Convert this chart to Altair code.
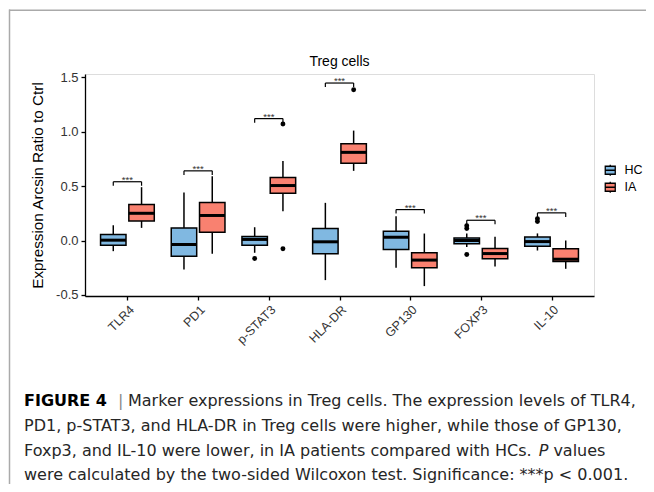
import altair as alt
import pandas as pd

categories = ["TLR4", "PD1", "p-STAT3", "HLA-DR", "GP130", "FOXP3", "IL-10"]
groups = ["HC", "IA"]
colors = ["#80B8E1", "#F98170"]

hc_low = [-0.098, -0.266, -0.113, -0.364, -0.25, -0.06, -0.092]
hc_q1 = [-0.043, -0.144, -0.043, -0.122, -0.083, -0.03, -0.052]
hc_med = [0.003, -0.037, 0.01, -0.012, 0.03, 0.0, -0.01]
hc_q3 = [0.055, 0.116, 0.037, 0.11, 0.086, 0.024, 0.032]
hc_high = [0.14, 0.44, 0.122, 0.346, 0.223, 0.065, 0.065]

ia_low = [0.116, -0.122, 0.269, 0.64, -0.419, -0.24, -0.26]
ia_q1 = [0.18, 0.076, 0.434, 0.71, -0.25, -0.168, -0.192]
ia_med = [0.25, 0.23, 0.505, 0.81, -0.18, -0.12, -0.172]
ia_q3 = [0.33, 0.35, 0.58, 0.89, -0.113, -0.073, -0.076]
ia_high = [0.49, 0.59, 0.73, 1.01, 0.064, 0.034, 0.0]

out_cat = ["p-STAT3", "p-STAT3", "p-STAT3", "HLA-DR", "FOXP3", "FOXP3", "FOXP3", "IL-10", "IL-10"]
out_group = ["HC", "IA", "IA", "IA", "HC", "HC", "HC", "HC", "HC"]
out_val = [-0.165, 1.07, -0.076, 1.385, 0.135, 0.11, -0.128, 0.2, 0.175]

sig_y = [0.54, 0.64, 1.12, 1.447, 0.284, 0.186, 0.254]
sig_label = ["***"] * 7

y_ticks = [-0.5, 0.0, 0.5, 1.0, 1.5]

title_text = "Treg cells"
y_title = "Expression Arcsin Ratio to Ctrl"

cap1_bold = "FIGURE 4"
cap1_bar = "|"
cap1_rest = "Marker expressions in Treg cells. The expression levels of TLR4,"
cap2 = "PD1, p-STAT3, and HLA-DR in Treg cells were higher, while those of GP130,"
cap3_a = "Foxp3, and IL-10 were lower, in IA patients compared with HCs."
cap3_p = "P"
cap3_b = "values"
cap4 = "were calculated by the two-sided Wilcoxon test. Significance: ***p < 0.001."

DODGE = 0.2
HALF = 0.18
LEG = 0.037

rows = []
for i, c in enumerate(categories):
    for g, st, off in [("HC", (hc_low, hc_q1, hc_med, hc_q3, hc_high), -DODGE),
                       ("IA", (ia_low, ia_q1, ia_med, ia_q3, ia_high), DODGE)]:
        rows.append(dict(cat=c, group=g, pos=i + off, xl=i + off - HALF, xr=i + off + HALF,
                         low=st[0][i], q1=st[1][i], med=st[2][i], q3=st[3][i], high=st[4][i]))
box = pd.DataFrame(rows)

outl = pd.DataFrame({"cat": out_cat, "group": out_group, "val": out_val})
outl["pos"] = [categories.index(c) + (-DODGE if g == "HC" else DODGE) for c, g in zip(out_cat, out_group)]

sig = pd.DataFrame({"cat": categories, "y": sig_y, "label": sig_label})
sig["i"] = range(len(categories))
sig["x1"] = sig["i"] - DODGE
sig["x2"] = sig["i"] + DODGE
sig["ylo"] = sig["y"] - LEG

W, H = 509, 222
PR, PB = 52, 188

xs = alt.Scale(domain=[-0.6, len(categories) - 0.4], nice=False, zero=False)
ys = alt.Scale(domain=[-0.51, 1.53], nice=False, zero=False)

label_expr = "[" + ",".join("'%s'" % c for c in categories) + "][datum.value]"
xaxis = alt.Axis(values=list(range(len(categories))), labelExpr=label_expr, title=None,
                 labelAngle=-45, labelAlign="right", labelBaseline="top", labelPadding=3,
                 labelFontSize=12.5, labelColor="#333333", tickSize=4, tickColor="black",
                 domainColor="black", domainWidth=1.3, tickWidth=1.3, grid=False,
                 labelFont="Liberation Sans")
yaxis = alt.Axis(values=y_ticks, labelExpr="replace(format(datum.value, '.1f'), '\u2212', '-')",
                 title=y_title, titleFontSize=15.3, titleFontWeight="normal", titleColor="black",
                 titleFont="Liberation Sans", titlePadding=10,
                 labelFontSize=13, labelColor="#333333", tickSize=4, tickColor="black",
                 domainColor="black", domainWidth=1.3, tickWidth=1.3, grid=False, labelPadding=3,
                 labelFont="Liberation Sans")

X = lambda f: alt.X(f, scale=xs, axis=xaxis)
Y = lambda f: alt.Y(f, scale=ys, axis=yaxis)

base = alt.Chart(box)

whisk_lo = base.mark_rule(color="black", strokeWidth=1.5).encode(x=X("pos:Q"), y=Y("low:Q"), y2="q1:Q")
whisk_hi = base.mark_rule(color="black", strokeWidth=1.5).encode(x=X("pos:Q"), y=Y("q3:Q"), y2="high:Q")

sym_path = "M-1,-0.8L1,-0.8L1,0.8L-1,0.8Z M-1,0L1,0 M0,-0.8L0,-1.1 M0,0.8L0,1.1"
boxes = base.mark_bar(stroke="black", strokeWidth=1.5).encode(
    x=X("xl:Q"), x2="xr:Q", y=Y("q1:Q"), y2="q3:Q",
    fill=alt.Fill("group:N", scale=alt.Scale(domain=groups, range=colors), title=None,
                  legend=alt.Legend(orient="none", legendX=519, legendY=90, symbolType=sym_path,
                                    symbolSize=100, symbolStrokeColor="black", symbolStrokeWidth=1.3,
                                    labelFontSize=12.5, labelColor="black", labelFont="Liberation Sans",
                                    rowPadding=0, labelOffset=8)))
medians = base.mark_rule(color="black", strokeWidth=3).encode(x=X("xl:Q"), x2="xr:Q", y=Y("med:Q"))

points = alt.Chart(outl).mark_circle(color="black", opacity=1, size=24).encode(x=X("pos:Q"), y=Y("val:Q"))

sb = alt.Chart(sig)
br_h = sb.mark_rule(color="black", strokeWidth=1.2).encode(x=X("x1:Q"), x2="x2:Q", y=Y("y:Q"))
br_l = sb.mark_rule(color="black", strokeWidth=1.2).encode(x=X("x1:Q"), y=Y("ylo:Q"), y2="y:Q")
br_r = sb.mark_rule(color="black", strokeWidth=1.2).encode(x=X("x2:Q"), y=Y("ylo:Q"), y2="y:Q")
stars = sb.mark_text(fontSize=9.5, baseline="alphabetic", dy=1, color="#333333",
                     font="Liberation Sans").encode(x=X("i:Q"), y=Y("y:Q"), text="label:N")

one = alt.Chart(pd.DataFrame({"k": [0]}))

title = one.mark_text(fontSize=14, baseline="alphabetic", align="center", color="black",
                      font="Liberation Sans").encode(x=alt.value(W / 2), y=alt.value(-8), text=alt.value(title_text))

CF = "DejaVu Sans"
CS = 16
CC = "#262626"
def cap(txt, x, y, **kw):
    opts = dict(fontSize=CS, baseline="alphabetic", align="left", color=CC, font=CF)
    opts.update(kw)
    return one.mark_text(**opts).encode(x=alt.value(x), y=alt.value(y), text=alt.value(txt))

caps = [
    cap(cap1_bold, -61, 332, fontWeight="bold", color="black"),
    cap(cap1_bar, 33, 332, color="#888888"),
    cap(cap1_rest, 43, 332),
    cap(cap2, -61, 357),
    cap(cap3_a, -61, 382),
    cap(cap3_p, 453.7, 382, fontStyle="italic"),
    cap(cap3_b, 468.4, 382),
    cap(cap4, -61, 406),
]

frame_top = one.mark_rule(color="#AAAAAA", strokeWidth=1.5).encode(
    x=alt.value(-76), x2=alt.value(W + PR), y=alt.value(-63.8))
frame_left = one.mark_rule(color="#AAAAAA", strokeWidth=1.5).encode(
    x=alt.value(-75.5), y=alt.value(-64.5), y2=alt.value(H + PB))

chart = alt.layer(whisk_lo, whisk_hi, boxes, medians, points, br_h, br_l, br_r, stars,
                  title, *caps, frame_top, frame_left).properties(
    width=W, height=H,
    padding={"left": 77, "top": 66, "right": PR, "bottom": PB},
    autosize=alt.AutoSizeParams(type="none"),
).configure_view(stroke=None).configure(background="white")

chart.save("out.html", embed_options={"renderer": "svg", "actions": False})
